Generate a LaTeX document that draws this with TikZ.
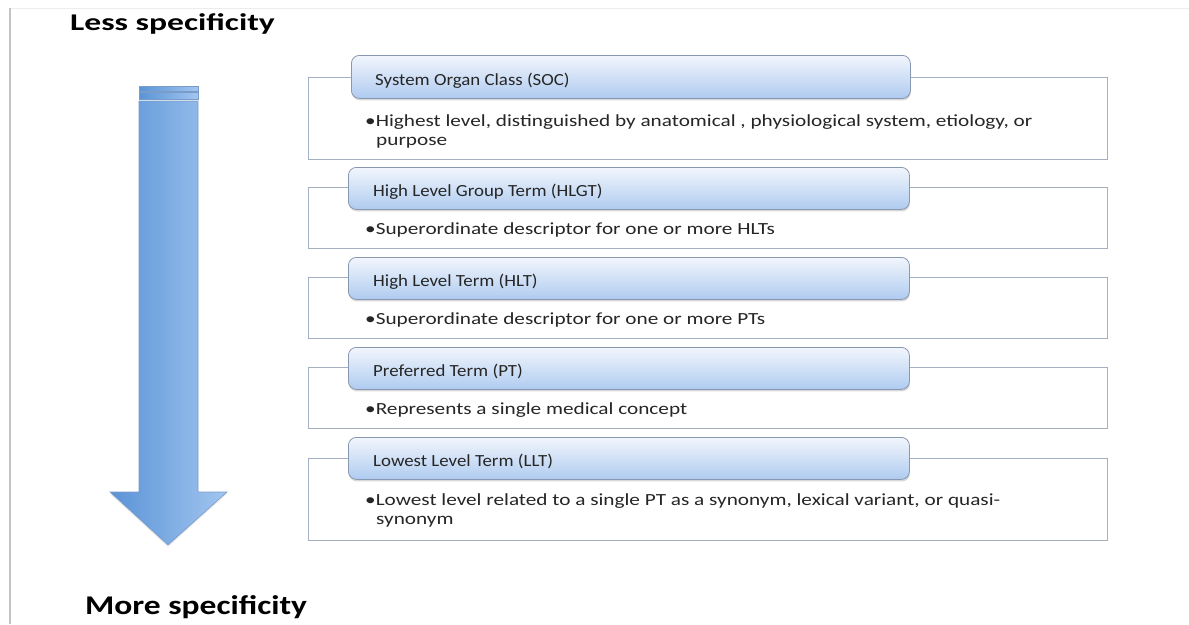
\documentclass[tikz,border=0pt]{standalone}
\usepackage{fontspec}
\setmainfont{Carlito}
\newfontfamily\bodyfont[FakeStretch=1.25]{Carlito}
\newfontfamily\tabfont[FakeStretch=1.11]{Carlito}
\newfontfamily\lessfont[FakeStretch=1.4]{Carlito}
\newfontfamily\morefont[FakeStretch=1.24]{Carlito}
\usetikzlibrary{shadows}
\definecolor{txt}{HTML}{262626}
\definecolor{framegray}{HTML}{C4C4C4}
\definecolor{topgray}{HTML}{ECECEC}
\definecolor{boxline}{HTML}{A2B0C2}
\definecolor{tabline}{HTML}{8898B0}
\definecolor{tabtop}{HTML}{F2F6FC}
\definecolor{tabbot}{HTML}{AFCBF0}
\definecolor{arrL}{HTML}{5A93D6}
\definecolor{arrR}{HTML}{A2C6F0}
\definecolor{arrline}{HTML}{7A9CC8}
\tikzset{
  outerbox/.style={draw=boxline, line width=1.1pt, fill=white, rectangle, inner sep=0pt, anchor=north west},
  tabbox/.style={draw=tabline, line width=0.8pt, rectangle, rounded corners=8pt, inner sep=0pt, anchor=north west,
    top color=tabtop, bottom color=tabbot,
    drop shadow={shadow xshift=0.5pt, shadow yshift=-2pt, opacity=0.25, fill=black!60}},
  tablabel/.style={font=\tabfont\fontsize{17}{20}\selectfont, text=txt, anchor=base west, inner sep=0pt},
  bodytext/.style={font=\bodyfont\fontsize{17}{19}\selectfont, text=txt, anchor=base west, inner sep=0pt},
  headline/.style={text=black, anchor=base west, inner sep=0pt},
  arrowbody/.style={draw=arrline, line width=0.6pt, left color=arrL, right color=arrR}
}
\begin{document}
\begin{tikzpicture}[x=1pt,y=-1pt]
\useasboundingbox (0,0) rectangle (1189,624);
\fill[white] (0,0) rectangle (1189,624);
\draw[topgray, line width=1pt] (10,8) -- (1189,8);
\draw[framegray, line width=1.8pt] (10,8) -- (10,624);

% titles
\node[headline, font=\lessfont\fontsize{24}{28}\selectfont\bfseries] (less) at (70,30) {Less specificity};
\node[headline, font=\morefont\fontsize{27}{30}\selectfont\bfseries] (more) at (85,614) {More specificity};

% arrow
\path[arrowbody] (139,86) rectangle (198,91);
\path[arrowbody] (139,92) rectangle (198,99);
\path[arrowbody, drop shadow={shadow xshift=0pt, shadow yshift=-2pt, opacity=0.15}]
  (139,101) -- (198,101) -- (198,492) -- (227,492) -- (168,545) -- (110,492) -- (139,492) -- cycle;

% SOC
\node[outerbox, minimum width=799pt, minimum height=82pt] (socbox) at (308,77) {};
\node[tabbox, minimum width=559pt, minimum height=43pt] (soctab) at (351,55) {};
\node[tablabel] (soclabel) at (375,85) {System Organ Class (SOC)};
\node[bodytext] (socb1) at (365,126) {•Highest level, distinguished by anatomical , physiological system, etiology, or};
\node[bodytext] (socb2) at (376,145) {purpose};

% HLGT
\node[outerbox, minimum width=799pt, minimum height=61pt] (hlgtbox) at (308,187) {};
\node[tabbox, minimum width=561pt, minimum height=42pt] (hlgttab) at (348,167) {};
\node[tablabel] (hlgtlabel) at (373,196) {High Level Group Term (HLGT)};
\node[bodytext] (hlgtb1) at (365,234) {•Superordinate descriptor for one or more HLTs};

% HLT
\node[outerbox, minimum width=799pt, minimum height=61pt] (hltbox) at (308,277) {};
\node[tabbox, minimum width=561pt, minimum height=42pt] (hlttab) at (348,257) {};
\node[tablabel] (hltlabel) at (373,286) {High Level Term (HLT)};
\node[bodytext] (hltb1) at (365,324) {•Superordinate descriptor for one or more PTs};

% PT
\node[outerbox, minimum width=799pt, minimum height=61pt] (ptbox) at (308,367) {};
\node[tabbox, minimum width=561pt, minimum height=42pt] (pttab) at (348,347) {};
\node[tablabel] (ptlabel) at (373,376) {Preferred Term (PT)};
\node[bodytext] (ptb1) at (365,414) {•Represents a single medical concept};

% LLT
\node[outerbox, minimum width=799pt, minimum height=82pt] (lltbox) at (308,458) {};
\node[tabbox, minimum width=561pt, minimum height=42pt] (llttab) at (348,437) {};
\node[tablabel] (lltlabel) at (373,466) {Lowest Level Term (LLT)};
\node[bodytext] (lltb1) at (365,505) {•Lowest level related to a single PT as a synonym, lexical variant, or quasi-};
\node[bodytext] (lltb2) at (376,524) {synonym};
\end{tikzpicture}
\end{document}
